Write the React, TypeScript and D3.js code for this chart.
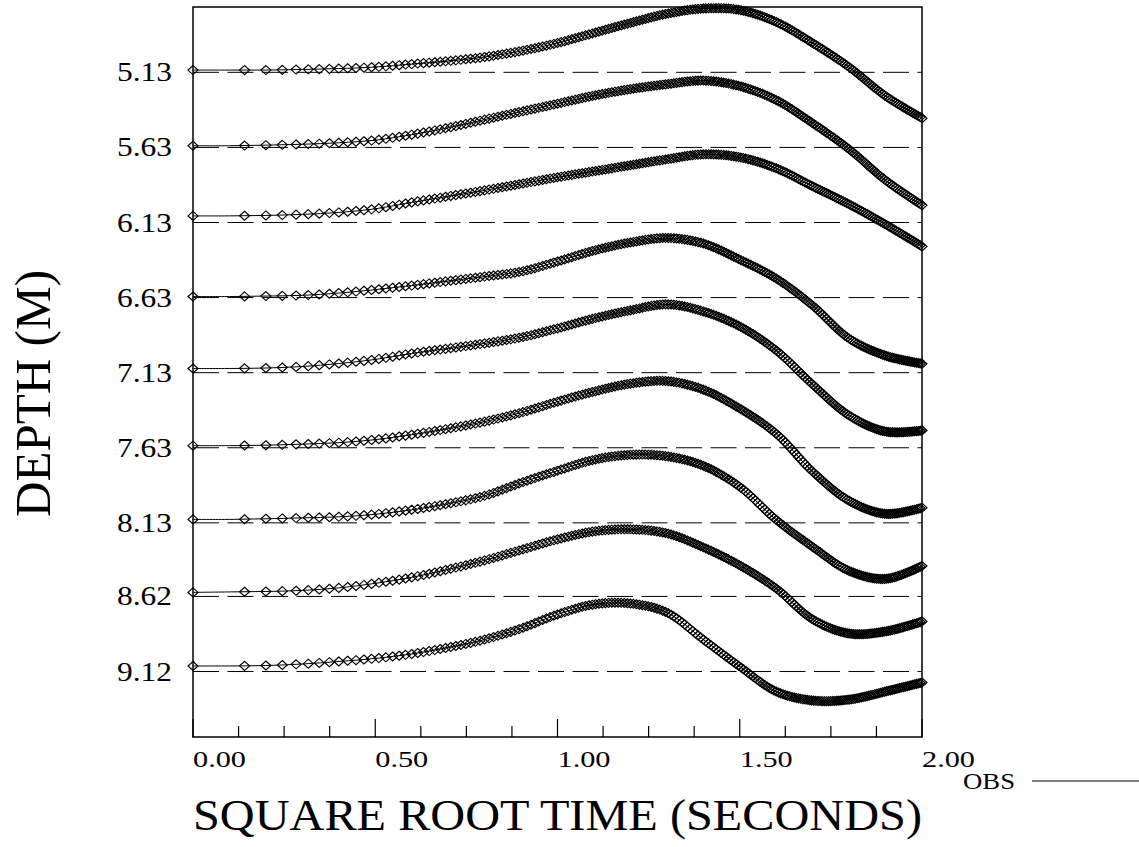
import * as d3 from "d3";
import React, { useEffect, useRef } from "react";

// depths of the nine sensors (m)
const depths = [5.13, 5.63, 6.13, 6.63, 7.13, 7.63, 8.13, 8.62, 9.12];
const depthLabels = ["5.13", "5.63", "6.13", "6.63", "7.13", "7.63", "8.13", "8.62", "9.12"];

const rootTimes = [0, 0.1, 0.2, 0.3, 0.4, 0.5, 0.6, 0.7, 0.8, 0.9, 1.0, 1.1, 1.2, 1.3, 1.4, 1.5, 1.6, 1.7, 1.8, 1.9, 2.0];

// response, as offset above the depth line (cm)
const obs513 = [1.5, 1.5, 1.5, 1.9, 2.5, 3.5, 5.5, 7.5, 10.2, 14.2, 19.5, 26.2, 32.9, 39.0, 42.5, 41.5, 33.5, 19.5, 3.5, -15.8, -30.5];
const obs563 = [1.1, 1.1, 1.5, 2.1, 3.1, 4.8, 8.5, 13.1, 18.5, 23.8, 29.1, 34.5, 38.8, 42.1, 44.5, 40.8, 31.5, 16.1, -1.2, -21.9, -38.5];
const obs613 = [4.4, 4.4, 4.7, 5.4, 6.7, 9.1, 13.4, 17.4, 21.4, 25.7, 30.1, 34.1, 38.1, 42.1, 45.4, 43.4, 36.1, 24.1, 12.1, -1.3, -15.9];
const obs663 = [0.7, 0.7, 1.0, 1.5, 3.0, 5.3, 8.0, 11.0, 14.0, 17.3, 24.0, 31.3, 36.7, 39.7, 36.0, 25.3, 12.7, -5.3, -27.3, -38.7, -44.0];
const obs713 = [2.8, 2.8, 3.1, 4.1, 6.1, 8.8, 12.8, 16.1, 19.5, 23.5, 29.5, 36.1, 41.5, 45.5, 40.8, 30.8, 14.8, -7.9, -28.5, -39.2, -38.5];
const obs763 = [1.4, 1.4, 1.7, 2.4, 3.4, 5.4, 8.7, 12.7, 17.4, 23.4, 30.7, 37.4, 42.7, 44.4, 38.7, 26.1, 9.4, -15.9, -35.3, -44.0, -39.9];
const obs813 = [2.3, 2.3, 2.7, 3.3, 4.0, 5.7, 8.7, 12.7, 18.0, 26.7, 34.7, 42.0, 45.3, 44.3, 38.0, 24.0, 2.0, -16.0, -32.0, -37.3, -28.7];
const obs862 = [2.7, 3.0, 3.3, 4.0, 5.7, 8.7, 12.7, 18.0, 24.0, 31.0, 38.0, 43.3, 44.7, 42.0, 32.7, 20.7, 5.3, -15.3, -24.7, -23.3, -16.7];
const obs912 = [3.7, 3.7, 4.0, 5.0, 6.7, 8.7, 11.7, 16.0, 21.3, 28.7, 38.0, 44.7, 45.3, 39.3, 21.3, 3.3, -13.3, -19.3, -18.7, -13.3, -7.3];
const allObs = [obs513, obs563, obs613, obs663, obs713, obs763, obs813, obs862, obs912];

// observation sampling: every 0.02 s up to 4 s
const obsStep = 0.02;
const obsCount = 201;

const xTicks = [0, 0.5, 1.0, 1.5, 2.0];
const xTickLabels = ["0.00", "0.50", "1.00", "1.50", "2.00"];

const FONT = "'Liberation Serif', serif";

export default function App() {
  const ref = useRef<SVGSVGElement>(null);

  useEffect(() => {
    const svg = d3.select(ref.current);
    svg.selectAll("*").remove();

    const x = d3.scaleLinear().domain([0, 2]).range([193, 922]);
    const y = d3.scaleLinear().domain([4.695, 9.556]).range([7, 737]);

    // dashed depth lines
    svg
      .append("g")
      .selectAll("line")
      .data(depths)
      .join("line")
      .attr("x1", x(0))
      .attr("x2", x(2))
      .attr("y1", (d) => y(d))
      .attr("y2", (d) => y(d))
      .attr("stroke", "#000")
      .attr("stroke-width", 1)
      .attr("stroke-dasharray", "26 8.5");

    const line = d3
      .line<number[]>()
      .x((d) => x(d[0]))
      .y((d) => y(d[1]))
      .curve(d3.curveCatmullRom.alpha(0.5));

    const obsX = d3.range(obsCount).map((i) => Math.sqrt(i * obsStep));
    const bis = d3.bisector((p: DOMPoint) => p.x).left;

    allObs.forEach((vals, k) => {
      const pts = rootTimes.map((t, i) => [t, depths[k] - vals[i] / 100]);
      const path = svg
        .append("path")
        .attr("d", line(pts))
        .attr("fill", "none")
        .attr("stroke", "#000")
        .attr("stroke-width", 1);

      // put the observation markers on the drawn curve
      const node = path.node() as SVGPathElement;
      const len = node.getTotalLength();
      const samples = d3.range(0, len, 0.5).map((l) => node.getPointAtLength(l));
      samples.push(node.getPointAtLength(len));
      const marks = obsX.map((v) => {
        const px = x(v);
        let j = bis(samples, px);
        if (j <= 0) return [samples[0].x, samples[0].y];
        if (j >= samples.length) j = samples.length - 1;
        const a = samples[j - 1];
        const b = samples[j];
        const f = b.x === a.x ? 0 : (px - a.x) / (b.x - a.x);
        return [px, a.y + f * (b.y - a.y)];
      });

      svg
        .append("g")
        .selectAll("path")
        .data(marks)
        .join("path")
        .attr("d", "M0,-4.5L5,0L0,4.5L-5,0Z")
        .attr("transform", (d) => `translate(${d[0]},${d[1]})`)
        .attr("fill", "none")
        .attr("stroke", "#000")
        .attr("stroke-width", 1.15);
    });

    // frame
    svg
      .append("rect")
      .attr("x", x(0))
      .attr("y", 7)
      .attr("width", x(2) - x(0))
      .attr("height", 730)
      .attr("fill", "none")
      .attr("stroke", "#000")
      .attr("stroke-width", 1.5);

    // x ticks (inside, from the bottom)
    const ticks = d3.range(0, 2.0001, 0.125);
    svg
      .append("g")
      .selectAll("line")
      .data(ticks)
      .join("line")
      .attr("x1", (d) => x(d))
      .attr("x2", (d) => x(d))
      .attr("y1", 737)
      .attr("y2", (d) => (Math.abs(d / 0.5 - Math.round(d / 0.5)) < 1e-6 ? 737 - 18 : 737 - 11))
      .attr("stroke", "#000")
      .attr("stroke-width", 1.2);

    svg
      .append("g")
      .selectAll("text")
      .data(xTicks)
      .join("text")
      .attr("x", (d) => x(d))
      .attr("y", 767)
      .attr("font-family", FONT)
      .attr("font-size", 23)
      .attr("textLength", 53)
      .attr("lengthAdjust", "spacingAndGlyphs")
      .text((d, i) => xTickLabels[i]);

    // y labels
    svg
      .append("g")
      .selectAll("text")
      .data(depths)
      .join("text")
      .attr("x", 172)
      .attr("y", (d) => y(d) + 9)
      .attr("text-anchor", "end")
      .attr("font-family", FONT)
      .attr("font-size", 27)
      .attr("textLength", 55)
      .attr("lengthAdjust", "spacingAndGlyphs")
      .text((d, i) => depthLabels[i]);

    // axis titles
    svg
      .append("text")
      .attr("x", 193)
      .attr("y", 830)
      .attr("font-family", FONT)
      .attr("font-size", 45)
      .attr("textLength", 729)
      .attr("lengthAdjust", "spacingAndGlyphs")
      .text("SQUARE ROOT TIME (SECONDS)");

    svg
      .append("text")
      .attr("transform", "translate(50,517) rotate(-90)")
      .attr("font-family", FONT)
      .attr("font-size", 50)
      .attr("textLength", 247)
      .attr("lengthAdjust", "spacingAndGlyphs")
      .text("DEPTH (M)");

    // legend
    svg
      .append("text")
      .attr("x", 963)
      .attr("y", 789)
      .attr("font-family", FONT)
      .attr("font-size", 24)
      .attr("textLength", 52)
      .attr("lengthAdjust", "spacingAndGlyphs")
      .text("OBS");
    svg
      .append("line")
      .attr("x1", 1032)
      .attr("x2", 1139)
      .attr("y1", 781)
      .attr("y2", 781)
      .attr("stroke", "#000")
      .attr("stroke-width", 1.2);
  }, []);

  return (
    <svg
      ref={ref}
      width={1139}
      height={847}
      style={{ position: "absolute", left: 0, top: 0, background: "#fff" }}
    />
  );
}
